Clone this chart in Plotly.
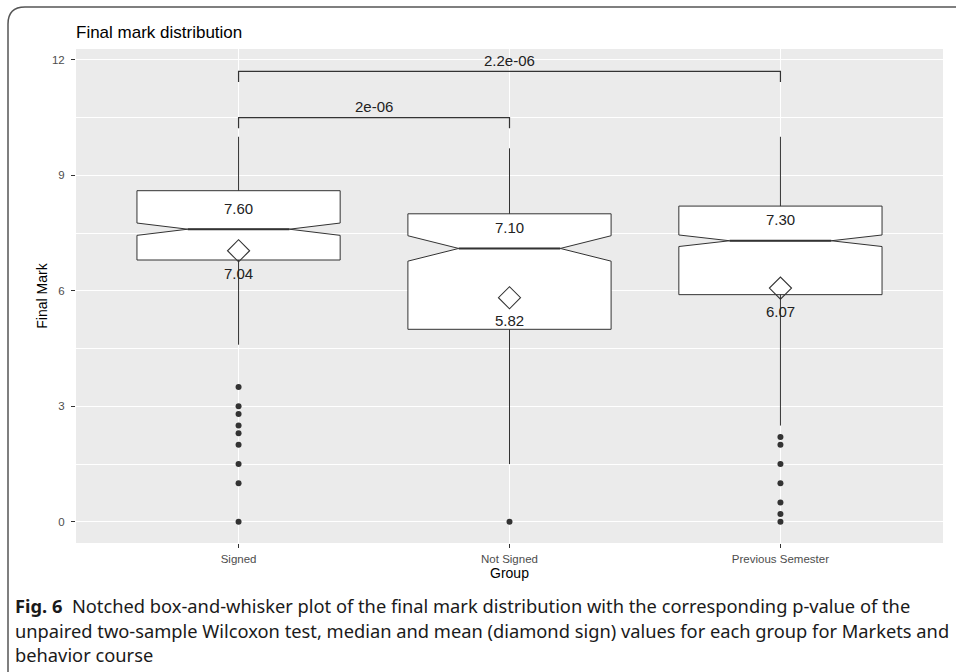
import plotly.graph_objects as go

# ---------------- data ----------------
groups = ["Signed", "Not Signed", "Previous Semester"]
q1 = [6.8, 5.0, 5.9]
median = [7.6, 7.1, 7.3]
q3 = [8.6, 8.0, 8.2]
lower_whisker = [4.6, 1.5, 2.5]
upper_whisker = [10.0, 9.7, 10.0]
notch_span = [0.16, 0.33, 0.15]
mean = [7.04, 5.82, 6.07]

outliers_signed = [3.5, 3.0, 2.8, 2.5, 2.3, 2.0, 1.5, 1.0, 0.0]
outliers_not_signed = [0.0]
outliers_previous = [2.2, 2.0, 1.5, 1.0, 0.5, 0.2, 0.0]

comparisons = [("Signed", "Not Signed", 10.5, "2e-06"),
               ("Signed", "Previous Semester", 11.7, "2.2e-06")]

y_ticks = [0, 3, 6, 9, 12]

title_text = "Final mark distribution"
caption_lines = [
    "<b>Fig. 6</b>  Notched box-and-whisker plot of the final mark distribution with the corresponding p-value of the",
    "unpaired two-sample Wilcoxon test, median and mean (diamond sign) values for each group for Markets and",
    "behavior course",
]

# ---------------- layout constants ----------------
W, H = 956, 672
L, R, T, B = 76, 13, 49, 129
PW, PH = W - L - R, H - T - B
BOX_W = 0.75
NOTCH_W = 0.25
LINE_C = "#333333"
FONT = "Liberation Sans, Arial, sans-serif"
CAP_FONT = "Noto Sans, sans-serif"

pos = list(range(len(groups)))
pos_of = dict(zip(groups, pos))

def px2paper(px, py):
    return (px - L) / PW, (T + PH - py) / PH

fig = go.Figure()

# notched boxes
fig.add_trace(go.Box(
    x=pos, q1=q1, median=median, q3=q3,
    lowerfence=lower_whisker, upperfence=upper_whisker,
    notchspan=notch_span, notched=True, notchwidth=NOTCH_W,
    width=BOX_W, whiskerwidth=0, fillcolor="white",
    line=dict(color=LINE_C, width=1), boxpoints=False,
    showlegend=False, hoverinfo="skip"))

# thicker median segments (span the narrow part of the notch)
half = BOX_W / 2 * (1 - 2 * NOTCH_W)
for p, m in zip(pos, median):
    fig.add_trace(go.Scatter(x=[p - half, p + half], y=[m, m], mode="lines",
                             line=dict(color=LINE_C, width=2),
                             showlegend=False, hoverinfo="skip"))

# outliers
for g, vals in zip(groups, [outliers_signed, outliers_not_signed, outliers_previous]):
    fig.add_trace(go.Scatter(x=[pos_of[g]] * len(vals), y=vals, mode="markers",
                             marker=dict(color=LINE_C, size=6),
                             showlegend=False, hoverinfo="skip"))

# mean diamonds
fig.add_trace(go.Scatter(x=pos, y=mean, mode="markers",
                         marker=dict(symbol="diamond-open", size=17,
                                     color=LINE_C, line=dict(width=1.1)),
                         showlegend=False, hoverinfo="skip"))

annotations = []
for p, m in zip(pos, median):
    annotations.append(dict(x=p, y=m, text=f"{m:.2f}", showarrow=False,
                            yshift=21, font=dict(size=15, color="#222", family=FONT)))
for p, m in zip(pos, mean):
    annotations.append(dict(x=p, y=m, text=f"{m:.2f}", showarrow=False,
                            yshift=-23, font=dict(size=15, color="#222", family=FONT)))

# significance brackets
TICK = 0.28
for a, b, yb, lab in comparisons:
    xa, xb = pos_of[a], pos_of[b]
    fig.add_trace(go.Scatter(x=[xa, xa, xb, xb], y=[yb - TICK, yb, yb, yb - TICK],
                             mode="lines", line=dict(color=LINE_C, width=1.2),
                             showlegend=False, hoverinfo="skip"))
    annotations.append(dict(x=(xa + xb) / 2, y=yb, text=lab, showarrow=False,
                            yshift=11, font=dict(size=15, color="#222", family=FONT)))

# title
tx, ty = px2paper(74, 32)
annotations.append(dict(xref="paper", yref="paper", x=tx, y=ty, xanchor="left",
                        yanchor="middle", text=title_text, showarrow=False,
                        font=dict(size=17, color="black", family=FONT)))
# caption, one annotation per line
for i, line in enumerate(caption_lines):
    cx, cy = px2paper(14, 605.2 + 24.8 * i)
    annotations.append(dict(xref="paper", yref="paper", x=cx, y=cy, xanchor="left",
                            yanchor="middle", align="left", text=line, showarrow=False,
                            borderpad=0,
                            font=dict(size=18.3, color="#1a1a1a", family=CAP_FONT)))

# outer frame (open on right/bottom) with rounded top-left corner
x0, y0 = px2paper(8, 700)
x1, y1 = px2paper(8, 24)
xc, yc = px2paper(8, 7)
x2, y2 = px2paper(25, 7)
x3, y3 = px2paper(980, 7)
frame = f"M {x0},{y0} L {x1},{y1} Q {xc},{yc} {x2},{y2} L {x3},{y3}"

fig.update_layout(
    width=W, height=H,
    margin=dict(l=L, r=R, t=T, b=B, pad=0),
    paper_bgcolor="white", plot_bgcolor="#EBEBEB",
    font=dict(family=FONT, color="#4D4D4D"),
    annotations=annotations,
    shapes=[dict(type="path", path=frame, xref="paper", yref="paper",
                 line=dict(color="#555555", width=1.5), layer="above")],
    showlegend=False,
)
fig.update_xaxes(
    range=[-0.6, 2.6], tickvals=pos, ticktext=groups, automargin=False,
    showgrid=True, gridcolor="white", gridwidth=1.1, zeroline=False,
    ticks="outside", ticklen=4, tickcolor="#333", tickwidth=1,
    tickfont=dict(size=11.5, color="#4D4D4D"), ticklabelstandoff=1,
    title=dict(text="Group", font=dict(size=14, color="black"), standoff=4),
    showline=False, fixedrange=True)
fig.update_yaxes(
    range=[-0.55, 12.28], tickvals=y_ticks, automargin=False,
    showgrid=True, gridcolor="white", gridwidth=1.1, zeroline=False,
    minor=dict(tickvals=[1.5, 4.5, 7.5, 10.5], showgrid=True, gridcolor="white", gridwidth=0.6),
    ticks="outside", ticklen=4, tickcolor="#333", tickwidth=1,
    tickfont=dict(size=11.5, color="#4D4D4D"), ticklabelstandoff=4,
    title=dict(text="Final Mark", font=dict(size=14, color="black"), standoff=1),
    showline=False, fixedrange=True)

fig.write_html("out.html", config={"displayModeBar": False},
               post_script="document.body.style.margin='0px';")
